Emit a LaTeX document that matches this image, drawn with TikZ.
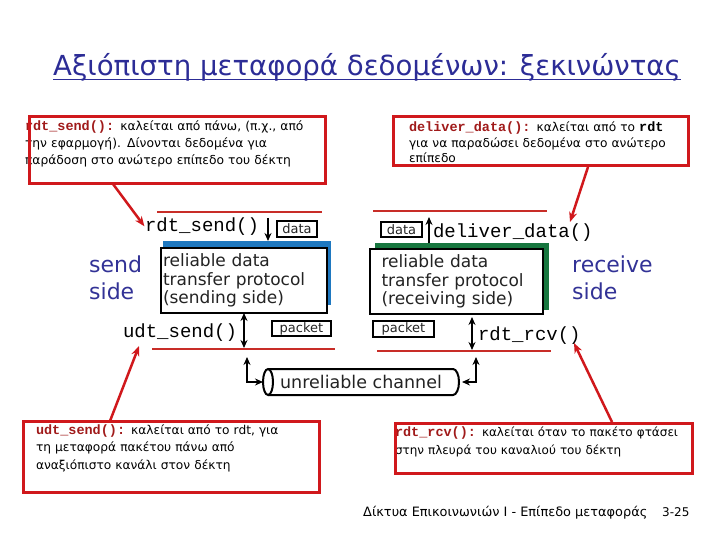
\documentclass[tikz,border=0pt]{standalone}
\usepackage{fontspec}
\setmainfont{DejaVu Sans}
\newfontfamily\codefont{Liberation Mono}
\usetikzlibrary{arrows.meta}
\definecolor{boxred}{RGB}{208,24,28}
\definecolor{labred}{RGB}{160,26,26}
\definecolor{sepred}{RGB}{200,45,40}
\definecolor{titleblue}{RGB}{44,44,150}
\definecolor{sideblue}{RGB}{50,50,150}
\definecolor{sendblue}{RGB}{30,120,192}
\definecolor{rcvgreen}{RGB}{22,118,62}
\definecolor{dtext}{RGB}{35,35,35}
\newcommand{\redcode}[1]{{\fontsize{13.5}{14}\selectfont\codefont\bfseries\color{labred}#1}}
\newcommand{\blkcode}[1]{{\fontsize{13.5}{14}\selectfont\codefont\bfseries #1}}
\begin{document}
\begin{tikzpicture}[x=1pt,y=-1pt,
  callbox/.style={draw=boxred, line width=3pt, inner sep=0pt, outer sep=0pt, anchor=north west},
  calltext/.style={anchor=base west, inner sep=0pt, outer sep=0pt, text width=#1, align=left},
  callarrow/.style={draw=boxred, line width=2.5pt, -{Stealth[length=10pt,width=8pt]}},
  sepline/.style={draw=sepred, line width=2.5pt},
  shadowbox/.style={anchor=north west, inner sep=0pt, outer sep=0pt},
  protobox/.style={draw=black, line width=2pt, fill=white, anchor=north west, inner ysep=0pt, outer sep=0pt, align=left, text=dtext, font=\fontsize{17}{18.5}\selectfont},
  smallbox/.style={draw=black, line width=1.8pt, inner sep=0pt, outer sep=0pt, text=dtext, font=\fontsize{13}{14}\selectfont},
  codelbl/.style={anchor=base west, inner sep=0pt, outer sep=0pt, font=\fontsize{19}{20}\selectfont\codefont},
  blkarrow/.style={draw=black, line width=2pt, -{Stealth[length=8pt,width=7pt]}},
  blkdarrow/.style={draw=black, line width=2pt, {Stealth[length=8pt,width=7pt]}-{Stealth[length=8pt,width=7pt]}},
  sidetext/.style={anchor=base west, inner sep=0pt, text width=#1, align=left, text=sideblue, font=\fontsize{22}{28}\selectfont},
  chanline/.style={draw=black, line width=2pt}
]
\useasboundingbox (0,0) rectangle (720,540);

% title
\node[anchor=base, inner sep=0pt, text=titleblue, font=\fontsize{27.6}{30}\selectfont] (title) at (367,76) {Αξιόπιστη μεταφορά δεδομένων: ξεκινώντας};
\draw[titleblue, line width=1.8pt] ([yshift=-3.5pt]title.base west) -- ([yshift=-3.5pt]title.base east);

% callout texts
\node[calltext=320pt, font=\fontsize{12.3}{16.7}\selectfont] (ct1) at (25,131)
  {\redcode{rdt\_send():} καλείται από πάνω, (π.χ., από\\την εφαρμογή). Δίνονται δεδομένα για\\παράδοση στο ανώτερο επίπεδο του δέκτη};
\node[calltext=300pt, font=\fontsize{12.2}{15.5}\selectfont] (ct2) at (409,132)
  {\redcode{deliver\_data():} καλείται από το \blkcode{rdt}\\για να παραδώσει δεδομένα στο ανώτερο\\επίπεδο};
\node[calltext=300pt, font=\fontsize{12.2}{17.5}\selectfont] (ct3) at (36,434)
  {\redcode{udt\_send():} καλείται από το rdt, για\\τη μεταφορά πακέτου πάνω από\\αναξιόπιστο κανάλι στον δέκτη};
\node[calltext=310pt, font=\fontsize{12.0}{18}\selectfont] (ct4) at (395,436)
  {\redcode{rdt\_rcv():} καλείται όταν το πακέτο φτάσει\\στην πλευρά του καναλιού του δέκτη};

% callout boxes
\node[callbox, minimum width=296pt, minimum height=67pt] (cb1) at (29,117) {};
\node[callbox, minimum width=295pt, minimum height=49pt] (cb2) at (393,117) {};
\node[callbox, minimum width=296pt, minimum height=71pt] (cb3) at (23,421) {};
\node[callbox, minimum width=297pt, minimum height=50pt] (cb4) at (395,423) {};

% separator lines
\draw[sepline] (157,212) -- (322,212);
\draw[sepline] (152,349) -- (335,349);
\draw[sepline] (373,211) -- (547,211);
\draw[sepline] (377,351) -- (551,351);

% sending side
\node[shadowbox, fill=sendblue, minimum width=168pt, minimum height=64pt] (sshadow) at (163,241) {};
\node[protobox, minimum width=166pt, minimum height=65pt, text width=162pt, inner xsep=2pt] (sbox) at (161,248) {reliable data\\transfer protocol\\(sending side)};
\node[codelbl] (rdtsend) at (145,232) {rdt\_send()};
\node[codelbl] (udtsend) at (123,337) {udt\_send()};
\node[smallbox, minimum width=40pt, minimum height=16pt] (dataL) at (297,229) {data};
\node[smallbox, minimum width=59pt, minimum height=15pt] (packetL) at (301.5,328.5) {packet};
\node[sidetext=70pt] (sendside) at (89,272) {send\\side};

% receiving side
\node[shadowbox, fill=rcvgreen, minimum width=174pt, minimum height=67pt] (rshadow) at (375,243) {};
\node[protobox, minimum width=173pt, minimum height=65pt, text width=150pt, inner xsep=11.5pt] (rbox) at (370,249) {reliable data\\transfer protocol\\(receiving side)};
\node[codelbl] (deliver) at (433,237) {deliver\_data()};
\node[codelbl] (rdtrcv) at (478,340) {rdt\_rcv()};
\node[smallbox, minimum width=41pt, minimum height=15pt] (dataR) at (401.5,229.5) {data};
\node[smallbox, minimum width=61pt, minimum height=16pt] (packetR) at (403.5,329) {packet};
\node[sidetext=80pt] (rcvside) at (572,272) {receive\\side};

% channel
\node[minimum width=196pt, minimum height=26pt, inner sep=0pt, outer sep=0pt, font=\fontsize{17.5}{18}\selectfont, text=dtext] (chan) at (361,382) {unreliable channel};
\draw[chanline] ([xshift=5pt]chan.north west) -- ([xshift=-6pt]chan.north east)
  arc[start angle=90, end angle=-90, x radius=6pt, y radius=13pt] -- ([xshift=5pt]chan.south west);
\draw[chanline] ([xshift=5pt]chan.west) ellipse [x radius=5pt, y radius=13pt];

% black arrows
\coordinate (a1) at (268,218);
\coordinate (a2) at (244,348);
\coordinate (a3) at (429,217);
\coordinate (a4) at (472,350);
\coordinate (cl) at (247,357);
\coordinate (cr) at (476,357);
\draw[blkarrow] (a1) -- (a1 |- sshadow.north);
\draw[blkdarrow] (a2 |- sbox.south) -- (a2);
\draw[blkarrow] (a3 |- rshadow.north) -- (a3);
\draw[blkdarrow, shorten <=3pt] (a4 |- rbox.south) -- (a4);
\draw[blkdarrow] (cl) |- (chan.west);
\draw[blkdarrow] (cr) |- ([xshift=3pt]chan.east);

% red callout arrows
\coordinate (s1) at (113,184);
\coordinate (s2) at (588,167);
\coordinate (t2) at (570,222);
\coordinate (s3) at (110,421);
\coordinate (t3) at (139,346);
\coordinate (s4) at (612,422);
\coordinate (t4) at (574,343);
\draw[callarrow, shorten >=1pt] (s1) -- (rdtsend.west);
\draw[callarrow] (s2) -- (t2);
\draw[callarrow] (s3) -- (t3);
\draw[callarrow] (s4) -- (t4);

% footer
\node[anchor=base west, inner sep=0pt, font=\fontsize{12.9}{13}\selectfont] (foot) at (363,516) {Δίκτυα Επικοινωνιών I - Επίπεδο μεταφοράς};
\node[anchor=base west, inner sep=0pt, font=\fontsize{12}{13}\selectfont] (pagenum) at (662,516) {3-25};
\end{tikzpicture}
\end{document}
